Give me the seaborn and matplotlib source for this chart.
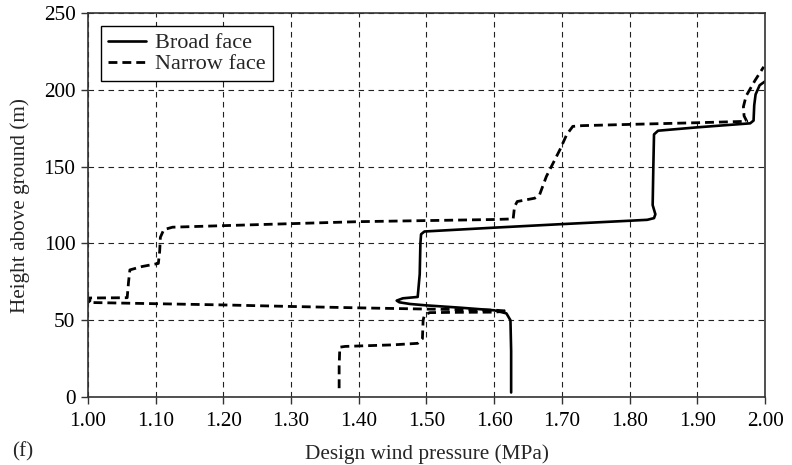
import matplotlib
matplotlib.use("Agg")
import matplotlib.pyplot as plt
import seaborn as sns
import pandas as pd

# ---- data ----
broad_p = [1.625, 1.625, 1.624, 1.618, 1.60, 1.55, 1.50, 1.476, 1.460, 1.456, 1.465,
           1.487, 1.490, 1.491, 1.492, 1.497, 1.60, 1.70, 1.80, 1.826, 1.836, 1.838,
           1.834, 1.835, 1.836, 1.842, 1.90, 1.978, 1.983, 1.984, 1.986, 1.992, 2.0]
broad_h = [3, 30, 50, 54.5, 56.5, 58.2, 59.7, 60.6, 61.7, 62.8, 64.3,
           65.2, 80, 100, 106, 107.8, 110.3, 112.6, 114.8, 115.4, 116.5, 119,
           125, 150, 171, 173.4, 175.6, 178.2, 180, 190, 197, 203, 205.5]

narrow_p = [1.371, 1.371, 1.372, 1.38, 1.45, 1.487, 1.494, 1.495, 1.497, 1.505,
            1.55, 1.60, 1.62, 1.60, 1.50, 1.40, 1.30, 1.20, 1.10, 1.00,
            1.003, 1.002, 1.03, 1.058, 1.060, 1.062, 1.08, 1.104, 1.106, 1.107,
            1.112, 1.125, 1.20, 1.30, 1.40, 1.50, 1.60, 1.628, 1.630, 1.634,
            1.66, 1.667, 1.677, 1.697, 1.707, 1.716, 1.73, 1.80, 1.90, 1.973,
            1.969, 1.968, 1.972, 1.985, 1.998]
narrow_h = [5.8, 20, 32.5, 33, 34, 35, 38, 50, 53.5, 55,
            55.2, 55.3, 56, 56.6, 57.3, 58.1, 59, 60, 60.8, 61.6,
            62.7, 64.5, 64.6, 64.7, 75, 82.8, 85, 87, 95, 104,
            109, 110.6, 111.6, 112.9, 114.2, 114.9, 115.6, 116, 124, 127.3,
            129.5, 131.7, 143.6, 161, 170.8, 176.2, 176.7, 177.5, 178.6, 179.5,
            183, 189, 196, 206, 215]

series_names = ["Broad face", "Narrow face"]
x_ticks = [1.00, 1.10, 1.20, 1.30, 1.40, 1.50, 1.60, 1.70, 1.80, 1.90, 2.00]
y_ticks = [0, 50, 100, 150, 200, 250]

sns.set_theme(style="white")
plt.rcParams["font.family"] = ["Liberation Serif", "DejaVu Serif"]
FS = 15.3

fig = plt.figure(figsize=(7.92, 4.65), dpi=100)
ax = fig.add_axes([0.111, 0.146, 0.855, 0.826])

df_b = pd.DataFrame({"p": broad_p, "h": broad_h})
df_n = pd.DataFrame({"p": narrow_p, "h": narrow_h})

sns.lineplot(data=df_b, x="p", y="h", sort=False, estimator=None, ax=ax,
             color="black", lw=1.9, label=series_names[0])
sns.lineplot(data=df_n, x="p", y="h", sort=False, estimator=None, ax=ax,
             color="black", lw=2.0, linestyle=(0, (3.2, 1.8)), label=series_names[1])

ax.set_xlim(1.0, 2.0)
ax.set_ylim(0, 250)
ax.set_xticks(x_ticks)
ax.set_xticklabels([f"{t:.2f}" for t in x_ticks])
ax.set_yticks(y_ticks)
ax.set_yticklabels([str(t) for t in y_ticks])

ax.grid(True, linestyle=(0, (5, 4)), color="#222222", lw=0.8)
ax.set_axisbelow(True)
for s in ax.spines.values():
    s.set_color("#333333")
    s.set_linewidth(1.2)
ax.tick_params(axis="both", direction="out", length=5, width=1, color="#333333",
               labelsize=FS, labelcolor="black", bottom=True, left=True)
ax.tick_params(axis="x", pad=6)
ax.tick_params(axis="y", pad=4)

ax.set_xlabel("Design wind pressure (MPa)", fontsize=FS, labelpad=9)
ax.set_ylabel("Height above ground (m)", fontsize=FS, labelpad=10)

leg = ax.legend(loc="upper left", bbox_to_anchor=(0.0192, 0.966), fontsize=16,
                frameon=True, fancybox=False, edgecolor="black", framealpha=1,
                handlelength=1.75, handletextpad=0.4, borderpad=0.3,
                labelspacing=0.02, borderaxespad=0.0)
leg.get_frame().set_linewidth(1.0)

fig.text(0.015, 0.018, "(f)", fontsize=FS)

fig.savefig("out.png", dpi=100)
